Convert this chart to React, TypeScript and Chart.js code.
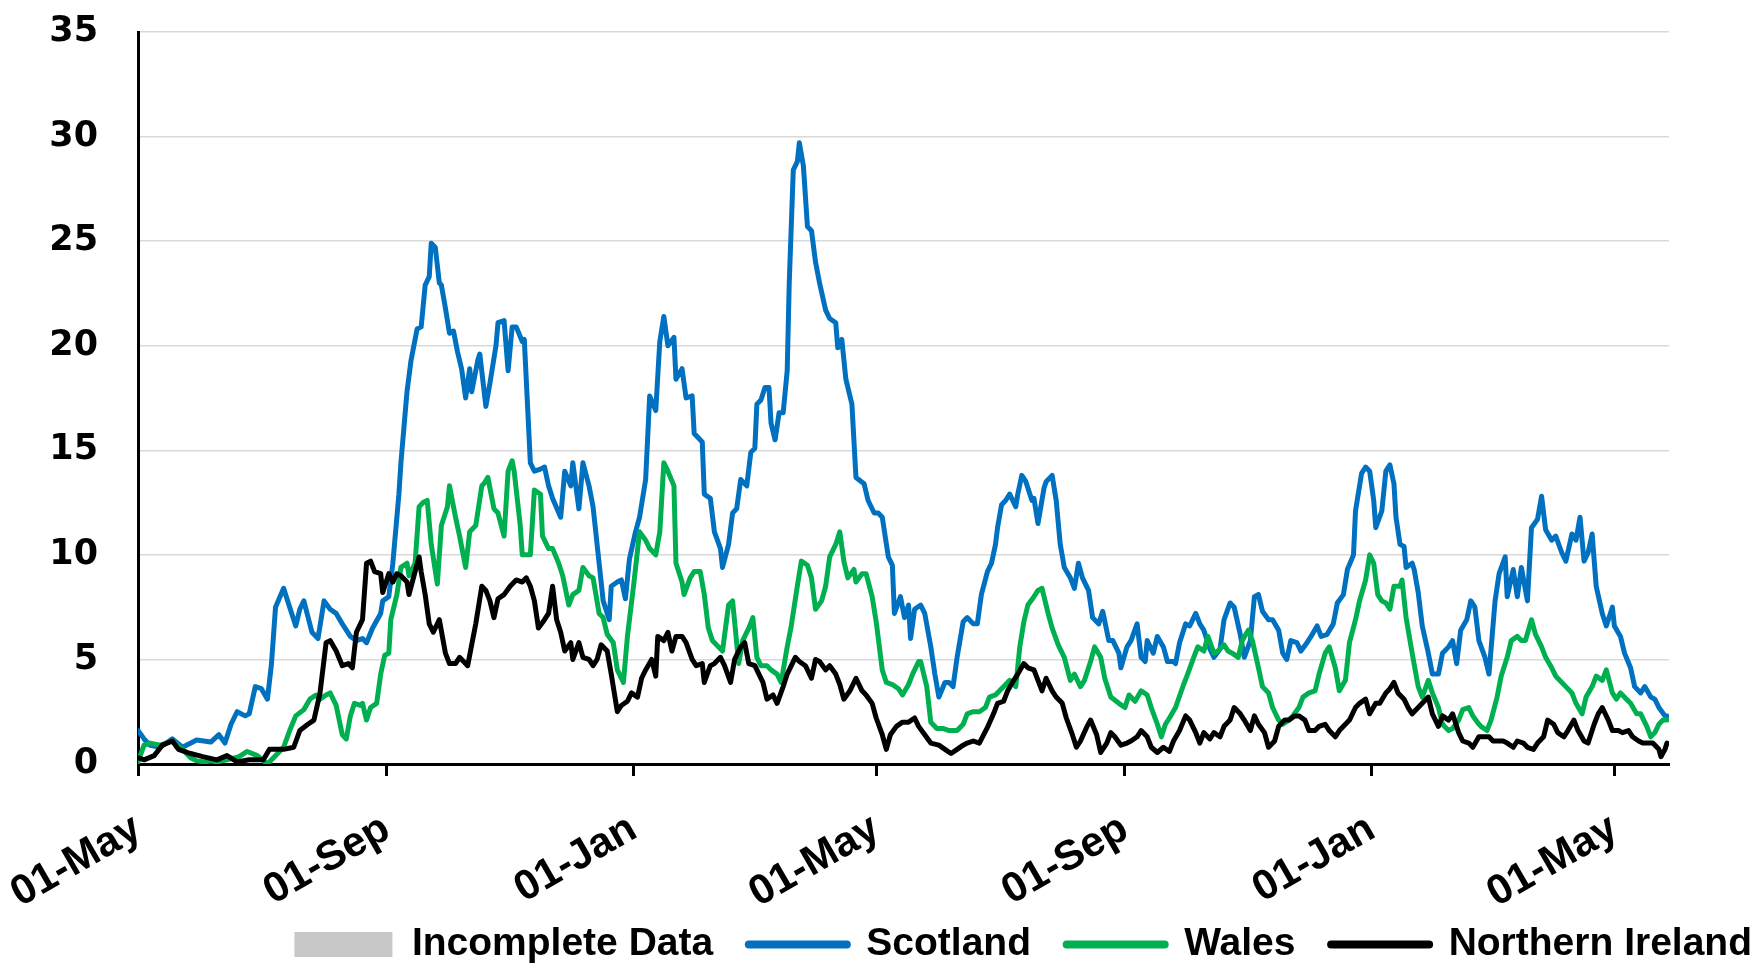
import React, { useEffect, useRef } from 'react';
import { Chart, registerables } from 'chart.js';

Chart.register(...registerables);

// Day offsets from 01-May (first year) and their tick labels
const tickDays = [0, 123, 245, 365, 488, 610, 730];
const tickLabels = ['01-May', '01-Sep', '01-Jan', '01-May', '01-Sep', '01-Jan', '01-May'];

const seriesNames = ['Incomplete Data', 'Scotland', 'Wales', 'Northern Ireland'];

// [day, value]
const scotland: [number, number][] = [
  [0,1.6],[3,1.2],[6,0.9],[11,0.8],[17,1.2],[22,0.8],[29,1.15],[36,1.05],[40,1.4],[43,1.0],[46,1.9],[49,2.5],[53,2.3],[55,2.4],[58,3.7],[61,3.6],[64,3.1],[66,4.8],[68,7.5],[72,8.4],[75,7.5],[78,6.6],[80,7.4],[82,7.8],[86,6.3],[89,6.0],[92,7.8],[95,7.4],[98,7.2],[101,6.7],[105,6.1],[108,5.9],[111,6.0],[113,5.8],[116,6.5],[120,7.2],[121,7.8],[124,8.0],[126,9.6],[129,12.9],[130,14.4],[133,17.8],[135,19.3],[138,20.8],[140,20.9],[142,22.9],[144,23.3],[145,24.9],[147,24.7],[149,23.0],[150,22.9],[152,21.8],[154,20.6],[156,20.7],[158,19.7],[160,18.9],[162,17.5],[164,18.9],[165,17.8],[168,19.3],[169,19.6],[172,17.1],[174,18.2],[177,20.0],[178,21.1],[181,21.2],[183,18.8],[185,20.9],[187,20.9],[190,20.2],[191,20.3],[194,14.4],[196,14.0],[199,14.1],[201,14.2],[203,13.3],[205,12.7],[209,11.8],[211,14.0],[214,13.3],[215,14.4],[218,12.2],[220,14.4],[223,13.3],[225,12.3],[228,9.6],[230,7.8],[233,6.9],[234,8.5],[237,8.7],[239,8.8],[241,7.9],[243,9.8],[246,11.1],[248,11.8],[251,13.6],[253,17.6],[256,16.9],[258,20.2],[260,21.4],[262,20.0],[265,20.4],[266,18.4],[269,18.9],[271,17.5],[274,17.6],[275,15.8],[279,15.4],[280,12.9],[283,12.7],[285,11.1],[288,10.3],[289,9.4],[292,10.5],[294,12.0],[296,12.2],[298,13.6],[301,13.3],[303,14.9],[305,15.1],[306,17.2],[308,17.4],[310,18.0],[312,18.0],[313,16.3],[315,15.5],[317,16.8],[319,16.8],[321,18.8],[322,23.0],[324,28.4],[326,28.8],[327,29.7],[329,28.6],[331,25.7],[333,25.5],[335,24.0],[337,23.0],[340,21.7],[342,21.3],[345,21.1],[346,19.9],[348,20.3],[350,18.4],[353,17.2],[355,13.7],[359,13.4],[361,12.6],[364,12.0],[366,12.0],[368,11.8],[371,9.9],[373,9.5],[374,7.2],[377,8.0],[379,7.0],[381,7.6],[382,6.0],[384,7.4],[387,7.6],[389,7.2],[392,5.6],[394,4.3],[396,3.2],[399,3.9],[401,3.9],[403,3.7],[405,5.1],[408,6.8],[410,7.0],[413,6.7],[415,6.7],[417,8.1],[420,9.2],[422,9.6],[424,10.5],[425,11.3],[427,12.4],[429,12.6],[431,12.9],[434,12.3],[435,12.9],[437,13.8],[439,13.5],[442,12.6],[443,12.7],[445,11.5],[448,13.2],[449,13.5],[452,13.8],[454,12.6],[456,10.5],[458,9.4],[461,8.9],[463,8.4],[465,9.6],[467,8.9],[470,8.3],[472,7.0],[475,6.7],[477,7.3],[480,5.9],[482,5.9],[485,5.3],[486,4.6],[489,5.6],[491,5.9],[494,6.7],[496,5.1],[498,4.9],[499,5.9],[502,5.3],[504,6.1],[507,5.6],[509,4.9],[512,4.9],[513,4.8],[515,5.8],[518,6.7],[520,6.6],[523,7.2],[525,6.7],[527,6.4],[530,5.5],[532,5.1],[535,5.5],[537,6.9],[540,7.7],[542,7.5],[545,6.2],[547,5.1],[550,5.9],[552,8.0],[554,8.1],[556,7.3],[559,6.9],[561,6.9],[564,6.4],[566,5.3],[568,5.0],[570,5.9],[573,5.8],[575,5.4],[578,5.8],[580,6.1],[583,6.6],[585,6.1],[588,6.2],[591,6.7],[593,7.7],[596,8.1],[598,9.3],[601,10.0],[602,12.1],[605,13.9],[607,14.2],[609,14.0],[611,12.6],[612,11.3],[615,12.1],[617,14.0],[619,14.3],[621,13.4],[622,11.8],[624,10.5],[626,10.4],[627,9.4],[630,9.6],[631,9.3],[633,8.2],[635,6.6],[638,5.3],[640,4.3],[643,4.3],[645,5.3],[648,5.6],[650,5.9],[652,4.8],[654,6.4],[657,6.9],[659,7.8],[661,7.5],[663,5.9],[666,5.1],[668,4.3],[671,7.8],[673,9.1],[676,9.9],[677,8.0],[680,9.3],[682,8.0],[684,9.4],[687,7.8],[689,11.3],[692,11.7],[694,12.8],[696,11.2],[699,10.7],[701,10.9],[704,10.1],[706,9.7],[709,11.0],[711,10.7],[713,11.8],[715,9.7],[717,10.1],[719,11.0],[721,8.5],[724,7.2],[726,6.6],[729,7.5],[730,6.6],[733,6.1],[735,5.3],[738,4.6],[740,3.7],[743,3.4],[745,3.7],[748,3.2],[750,3.1],[752,2.7],[755,2.3],[756,2.3]
];

const wales: [number, number][] = [
  [0,0.1],[3,0.9],[6,1.0],[11,0.9],[17,1.1],[22,0.7],[26,0.3],[29,0.15],[33,0.1],[36,0.15],[39,0.1],[44,0.2],[50,0.35],[54,0.6],[59,0.4],[64,0.0],[67,0.3],[72,0.8],[75,1.6],[78,2.3],[82,2.6],[85,3.1],[88,3.3],[90,3.1],[93,3.3],[95,3.4],[98,2.8],[101,1.4],[103,1.2],[105,2.3],[107,2.9],[110,2.8],[111,2.9],[113,2.1],[115,2.7],[118,2.9],[120,4.3],[122,5.2],[124,5.3],[125,6.9],[128,8.1],[130,9.4],[133,9.6],[134,9.0],[137,9.6],[139,12.3],[141,12.5],[143,12.6],[145,10.5],[148,8.6],[150,11.4],[153,12.3],[154,13.3],[157,11.8],[159,10.9],[162,9.4],[164,11.1],[167,11.4],[170,13.3],[171,13.4],[173,13.7],[176,12.2],[178,12.0],[181,10.9],[183,14.0],[185,14.5],[186,14.0],[189,11.4],[190,10.0],[194,10.0],[196,13.1],[199,12.9],[200,10.9],[203,10.3],[205,10.3],[208,9.6],[210,9.0],[213,7.6],[215,8.1],[218,8.3],[220,9.4],[223,9.0],[225,8.9],[228,7.2],[230,7.0],[232,6.2],[235,5.8],[237,4.5],[240,3.9],[242,6.1],[245,8.5],[248,11.1],[251,10.7],[253,10.3],[256,10.0],[258,11.1],[260,14.4],[262,14.0],[265,13.3],[266,9.6],[269,8.7],[270,8.1],[273,8.9],[275,9.2],[278,9.2],[280,8.1],[282,6.5],[284,5.9],[287,5.6],[289,5.4],[292,7.6],[294,7.8],[297,4.8],[299,5.9],[302,6.5],[304,7.0],[306,5.1],[308,4.7],[311,4.7],[313,4.5],[316,4.3],[318,3.9],[321,5.6],[323,6.6],[326,8.5],[328,9.7],[331,9.5],[333,8.9],[335,7.4],[338,7.8],[340,8.5],[342,9.9],[345,10.5],[347,11.1],[349,9.7],[351,8.9],[354,9.3],[355,8.7],[358,9.1],[360,9.1],[363,8.0],[365,6.8],[368,4.5],[370,3.9],[373,3.8],[376,3.6],[378,3.3],[381,3.8],[383,4.3],[386,4.9],[387,4.9],[390,3.7],[392,2.0],[395,1.7],[398,1.7],[401,1.6],[405,1.6],[408,1.9],[410,2.4],[413,2.5],[416,2.5],[419,2.7],[421,3.2],[424,3.3],[426,3.5],[429,3.8],[431,4.0],[434,3.7],[436,5.6],[438,6.8],[440,7.6],[443,8.0],[445,8.3],[447,8.4],[450,7.2],[452,6.5],[455,5.7],[458,5.1],[461,4.0],[463,4.3],[466,3.7],[468,4.0],[471,4.9],[473,5.6],[476,5.1],[478,4.1],[481,3.2],[485,2.9],[488,2.7],[490,3.3],[493,3.0],[496,3.5],[499,3.3],[501,2.7],[504,1.9],[506,1.3],[508,1.9],[510,2.2],[513,2.7],[517,3.8],[519,4.3],[522,5.1],[524,5.6],[527,5.4],[529,6.1],[532,5.3],[534,5.4],[537,5.7],[539,5.4],[541,5.3],[544,5.1],[546,5.9],[549,6.4],[551,5.9],[554,4.6],[556,3.7],[559,3.4],[561,2.7],[564,2.1],[566,1.9],[569,2.1],[571,2.3],[574,2.7],[576,3.2],[579,3.4],[582,3.5],[584,4.3],[587,5.3],[589,5.6],[592,4.6],[594,3.5],[597,4.0],[599,5.8],[602,6.9],[604,7.8],[607,8.8],[609,10.0],[611,9.6],[613,8.1],[615,7.8],[617,7.7],[619,7.4],[621,8.5],[624,8.5],[625,8.8],[627,7.0],[630,5.3],[633,3.7],[635,3.2],[638,4.0],[640,3.4],[643,2.7],[645,1.9],[648,1.6],[650,1.7],[653,2.1],[655,2.6],[658,2.7],[660,2.3],[663,1.9],[664,1.8],[667,1.6],[669,2.1],[672,3.2],[674,4.2],[677,5.1],[679,5.9],[682,6.1],[684,5.9],[686,5.9],[689,6.9],[691,6.2],[694,5.6],[696,5.1],[699,4.6],[701,4.2],[704,3.9],[706,3.7],[709,3.4],[711,2.9],[714,2.4],[716,3.2],[719,3.7],[721,4.2],[724,4.0],[726,4.5],[729,3.4],[731,3.1],[733,3.4],[736,3.1],[738,2.9],[741,2.4],[743,2.4],[746,1.8],[748,1.3],[750,1.5],[752,1.9],[754,2.1],[756,2.1]
];

const northernIreland: [number, number][] = [
  [0,0.3],[3,0.2],[8,0.4],[12,0.9],[17,1.1],[20,0.7],[26,0.5],[32,0.35],[39,0.2],[44,0.4],[49,0.1],[55,0.2],[62,0.2],[65,0.7],[72,0.7],[77,0.8],[80,1.6],[84,1.9],[87,2.1],[90,3.4],[93,5.8],[95,5.9],[98,5.4],[101,4.7],[104,4.8],[106,4.6],[108,6.3],[111,6.9],[113,9.6],[115,9.7],[117,9.2],[120,9.1],[121,8.2],[124,9.1],[126,8.7],[128,9.1],[130,9.0],[133,8.7],[134,8.1],[137,9.2],[139,9.9],[140,9.2],[142,8.1],[144,6.7],[146,6.3],[148,6.7],[149,6.9],[152,5.3],[154,4.8],[157,4.8],[159,5.1],[163,4.7],[165,5.7],[167,6.7],[170,8.5],[172,8.3],[174,7.8],[176,7.0],[178,7.9],[181,8.1],[184,8.5],[187,8.8],[190,8.7],[192,8.9],[194,8.5],[196,7.8],[198,6.5],[201,6.9],[203,7.2],[205,8.5],[207,6.9],[209,6.3],[211,5.4],[214,5.8],[215,5.0],[218,5.8],[220,5.1],[223,5.0],[225,4.7],[227,5.0],[229,5.7],[232,5.4],[234,4.3],[237,2.5],[239,2.8],[242,3.0],[244,3.4],[247,3.2],[249,4.1],[251,4.5],[254,5.0],[256,4.2],[257,6.1],[260,5.9],[262,6.3],[264,5.4],[266,6.1],[269,6.1],[271,5.8],[274,5.0],[276,4.7],[279,4.8],[280,3.9],[283,4.7],[285,4.8],[288,5.1],[290,4.7],[293,3.9],[295,5.0],[298,5.6],[300,5.8],[302,4.8],[305,4.7],[307,4.3],[309,3.9],[311,3.1],[314,3.3],[316,2.9],[319,3.7],[321,4.3],[325,5.1],[327,4.9],[330,4.7],[333,4.1],[335,5.0],[337,4.9],[340,4.5],[342,4.7],[345,4.3],[347,3.8],[349,3.1],[352,3.5],[355,4.1],[358,3.5],[360,3.3],[363,2.9],[365,2.2],[368,1.4],[370,0.7],[372,1.4],[375,1.8],[378,2.0],[381,2.0],[384,2.2],[386,1.8],[389,1.4],[392,1.0],[396,0.9],[399,0.7],[402,0.5],[405,0.7],[408,0.9],[410,1.0],[413,1.1],[416,1.0],[420,1.75],[423,2.4],[425,2.9],[428,3.0],[430,3.5],[433,4.0],[435,4.3],[438,4.8],[440,4.6],[443,4.5],[445,4.0],[447,3.5],[449,4.1],[452,3.5],[454,3.2],[457,2.9],[459,2.2],[462,1.4],[464,0.8],[466,1.1],[469,1.75],[471,2.1],[474,1.4],[476,0.55],[479,1.0],[481,1.5],[483,1.3],[486,0.9],[489,1.0],[491,1.1],[494,1.3],[496,1.6],[499,1.3],[501,0.8],[504,0.55],[507,0.8],[510,0.6],[512,1.1],[515,1.6],[518,2.3],[520,2.1],[523,1.5],[525,1.0],[527,1.5],[530,1.2],[532,1.5],[535,1.3],[537,1.8],[540,2.1],[542,2.7],[545,2.4],[547,2.1],[550,1.6],[552,2.3],[554,1.9],[557,1.5],[559,0.8],[562,1.1],[564,1.8],[567,2.1],[569,2.1],[572,2.3],[574,2.3],[577,2.1],[579,1.6],[582,1.6],[584,1.8],[587,1.9],[589,1.6],[592,1.3],[594,1.6],[597,1.9],[599,2.1],[602,2.7],[604,2.9],[607,3.1],[609,2.4],[612,2.9],[614,2.9],[617,3.4],[619,3.6],[621,3.9],[623,3.4],[626,3.1],[628,2.7],[630,2.4],[633,2.7],[635,2.9],[638,3.2],[640,2.4],[643,1.8],[645,2.3],[648,2.1],[650,2.4],[653,1.5],[655,1.1],[658,1.0],[660,0.8],[663,1.3],[665,1.3],[668,1.3],[670,1.1],[673,1.1],[675,1.1],[677,1.0],[680,0.8],[682,1.1],[685,1.0],[687,0.8],[690,0.7],[692,1.0],[695,1.3],[697,2.1],[700,1.9],[702,1.5],[705,1.3],[707,1.6],[710,2.1],[712,1.6],[715,1.1],[717,1.0],[720,1.9],[722,2.4],[724,2.7],[727,2.1],[729,1.6],[732,1.6],[734,1.5],[737,1.6],[739,1.3],[742,1.1],[744,1.0],[747,1.0],[749,1.0],[752,0.7],[753,0.35],[755,0.7],[756,1.0]
];

const COLORS = ['#c8c8c8', '#0070C0', '#00B050', '#000000'];

const TICK_FONT = { family: "'Liberation Sans', Arial, sans-serif", size: 42, weight: 'bold' as const };
const LEGEND_FONT = { family: "'Liberation Sans', Arial, sans-serif", size: 39, weight: 'bold' as const };

export default function App() {
  const ref = useRef<HTMLCanvasElement | null>(null);

  useEffect(() => {
    document.body.style.margin = '0';
    const canvas = ref.current;
    if (!canvas) return;
    const toPts = (arr: [number, number][]) => arr.map(([x, y]) => ({ x, y }));
    const lineDs = (i: number, arr: [number, number][], order: number) => ({
      type: 'line' as const,
      label: seriesNames[i],
      data: toPts(arr),
      borderColor: COLORS[i],
      backgroundColor: COLORS[i],
      borderWidth: 5,
      pointRadius: 0,
      pointHoverRadius: 0,
      tension: 0,
      borderJoinStyle: 'round' as const,
      borderCapStyle: 'round' as const,
      fill: false,
      order,
    });
    const chart = new Chart(canvas, {
      type: 'line',
      data: {
        datasets: [
          { type: 'line', label: seriesNames[0], data: [], borderColor: COLORS[0], backgroundColor: COLORS[0], pointRadius: 0, order: 4 } as any,
          lineDs(1, scotland, 3),
          lineDs(2, wales, 2),
          lineDs(3, northernIreland, 1),
        ],
      },
      options: {
        responsive: false,
        animation: false,
        devicePixelRatio: 1,
        layout: { padding: { top: 32, left: 0, right: -16, bottom: 0 } },
        scales: {
          x: {
            type: 'linear',
            min: 0,
            max: 757,
            offset: false,
            afterBuildTicks: (axis: any) => {
              axis.ticks = tickDays.map((v) => ({ value: v }));
            },
            afterFit: (s: any) => {
              s.height = 147;
              s.paddingLeft = 0;
              s.paddingRight = 0;
            },
            ticks: {
              autoSkip: false,
              maxRotation: 30,
              minRotation: 30,
              padding: 28,
              color: '#000',
              font: TICK_FONT,
              callback: (v: any) => {
                const i = tickDays.indexOf(Number(v));
                return i >= 0 ? tickLabels[i] : '';
              },
            },
            grid: {
              display: true,
              offset: false,
              drawOnChartArea: false,
              drawTicks: true,
              tickLength: 12,
              tickColor: '#000',
              tickWidth: 3,
            },
            border: { display: true, color: '#000', width: 3 },
          },
          y: {
            min: 0,
            max: 35,
            afterFit: (s: any) => {
              s.width = 138;
              s.paddingTop = 0;
              s.paddingBottom = 0;
            },
            ticks: {
              stepSize: 5,
              padding: 40,
              color: '#000',
              font: { family: "'DejaVu Sans', Verdana, sans-serif", size: 35, weight: 'bold' },
            },
            grid: { color: '#d9d9d9', lineWidth: 1.5, drawTicks: false },
            border: { display: true, color: '#000', width: 3 },
          },
          yRight: {
            type: 'linear',
            position: 'right',
            display: true,
            min: 0,
            max: 35,
            afterFit: (s: any) => {
              s.width = 97;
              s.paddingTop = 0;
              s.paddingBottom = 0;
            },
            ticks: { display: false },
            grid: { display: false, drawTicks: false },
            border: { display: false },
          },
        },
        plugins: {
          legend: {
            display: true,
            position: 'bottom',
            align: 'end',
            maxHeight: 57,
            labels: {
              usePointStyle: true,
              pointStyleWidth: 98,
              boxHeight: 25,
              padding: 14,
              color: '#000',
              font: LEGEND_FONT,
              generateLabels: (ch: any) =>
                ch.data.datasets.map((ds: any, i: number) => ({
                  text: i < 3 ? ds.label + '  ' : ds.label,
                  datasetIndex: i,
                  fillStyle: COLORS[i],
                  strokeStyle: COLORS[i],
                  lineWidth: i === 0 ? 0 : 8,
                  lineCap: 'round',
                  pointStyle: i === 0 ? 'rect' : 'line',
                  hidden: false,
                  fontColor: '#000',
                })),
            },
          },
          tooltip: { enabled: false },
        },
      } as any,
    });
    return () => chart.destroy();
  }, []);

  return <canvas ref={ref} width={1750} height={968} style={{ display: 'block' }} />;
}
